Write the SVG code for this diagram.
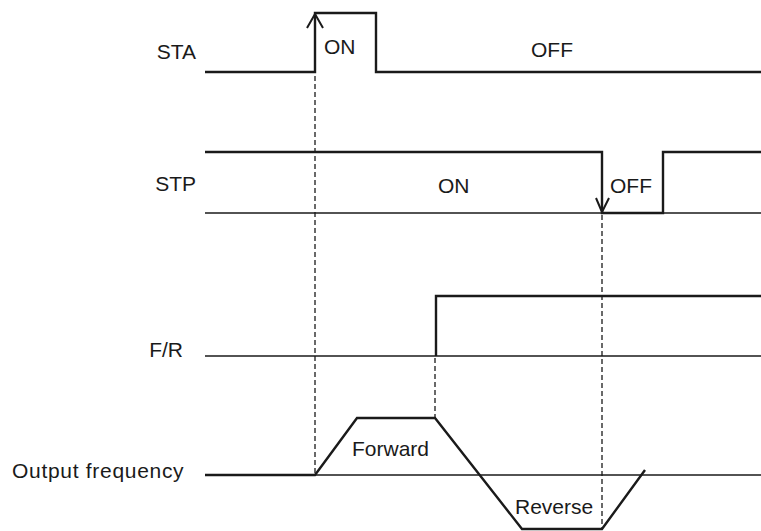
<svg xmlns="http://www.w3.org/2000/svg" width="761" height="531" viewBox="0 0 761 531">
<style>
.lbl{font-family:"Liberation Sans",Arial,sans-serif;font-size:21px;fill:#1a1a1a}
.sig{fill:none;stroke:#1a1a1a;stroke-width:2.4;stroke-linejoin:miter}
.base{fill:none;stroke:#1a1a1a;stroke-width:1.4}
.dash{fill:none;stroke:#1a1a1a;stroke-width:1.3;stroke-dasharray:5,3}
.arr{fill:none;stroke:#1a1a1a;stroke-width:2}
</style>
<rect width="761" height="531" fill="#ffffff"/>
<g id="sta">
<text class="lbl" x="196" y="59" text-anchor="end">STA</text>
<polyline class="sig" points="205,72 315,72 315,13 376,13 376,72 761,72"/>
<polyline class="arr" points="307,28 315,14 323,28"/>
<text class="lbl" x="324" y="54">ON</text>
<text class="lbl" x="531" y="57">OFF</text>
</g>
<g id="stp">
<text class="lbl" x="196" y="191" text-anchor="end">STP</text>
<line class="base" x1="205" y1="213" x2="761" y2="213"/>
<polyline class="sig" points="205,152 602,152 602,213 663,213 663,152 761,152"/>
<polyline class="arr" points="596,198 602,212 609,198"/>
<text class="lbl" x="438" y="193">ON</text>
<text class="lbl" x="610" y="193">OFF</text>
</g>
<g id="fr">
<text class="lbl" x="183" y="357" text-anchor="end">F/R</text>
<line class="base" x1="205" y1="356" x2="761" y2="356"/>
<polyline class="sig" points="436,356 436,296 761,296"/>
</g>
<g id="output-frequency">
<text class="lbl" x="12" y="478" letter-spacing="0.7">Output frequency</text>
<line class="base" x1="205" y1="475" x2="761" y2="475"/>
<polyline class="sig" points="205,475 315,475 357,418 435,418 522,529 602,529 645,470"/>
<text class="lbl" x="352" y="456">Forward</text>
<text class="lbl" x="515" y="514">Reverse</text>
</g>
<g id="connectors">
<line class="dash" x1="315" y1="76" x2="315" y2="475"/>
<line class="dash" x1="435" y1="358" x2="435" y2="418"/>
<line class="dash" x1="602" y1="215" x2="602" y2="529"/>
</g>
</svg>
